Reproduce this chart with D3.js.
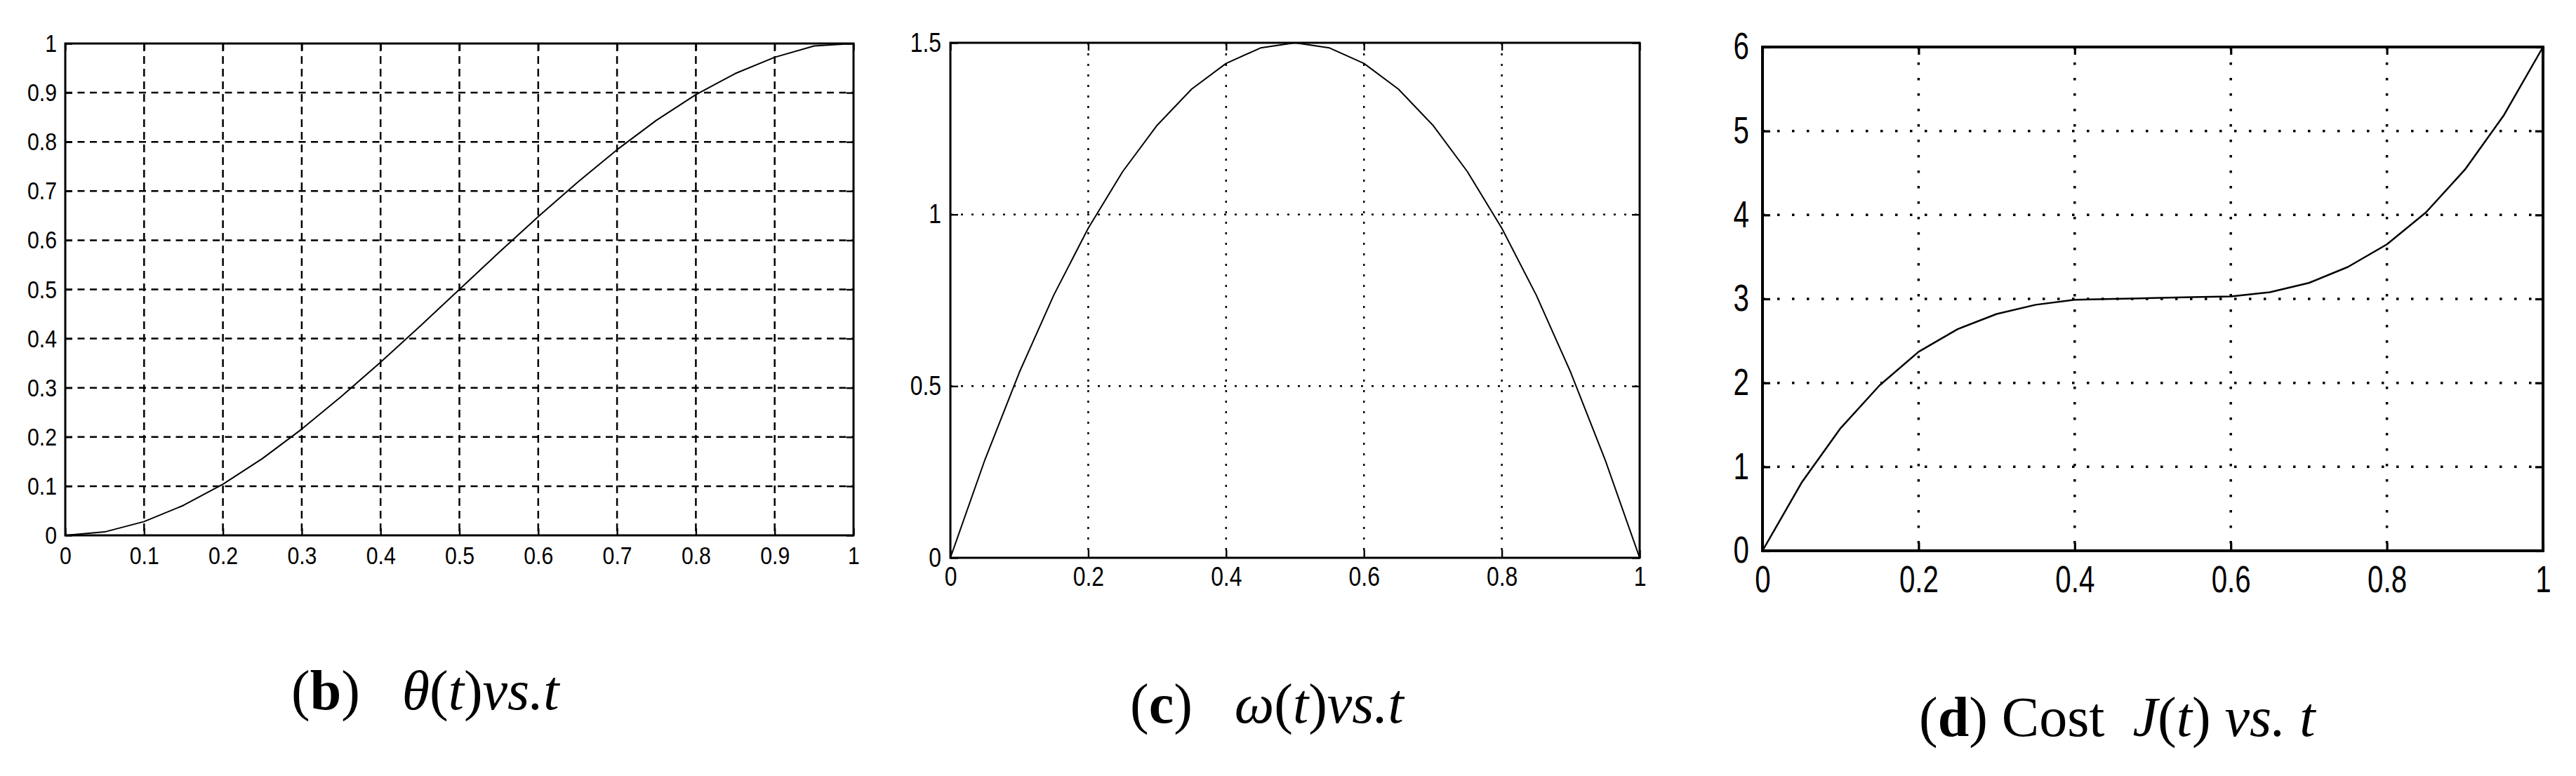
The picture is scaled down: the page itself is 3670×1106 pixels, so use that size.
<!DOCTYPE html>
<html>
<head>
<meta charset="utf-8">
<script src="https://cdn.jsdelivr.net/npm/d3@7"></script>
<style>
  html, body { margin: 0; padding: 0; background: #fff; }
  svg { display: block; }
  .cap { white-space: pre; }
</style>
</head>
<body>
<svg id="fig" width="3670" height="1106"></svg>
<script>
// ── DATA ────────────────────────────────────────────────────────────────
// sample times (shared by the three panels)
const tVals = [0, 0.05, 0.1, 0.15, 0.2, 0.25, 0.3, 0.35, 0.4, 0.45, 0.5,
               0.55, 0.6, 0.65, 0.7, 0.75, 0.8, 0.85, 0.9, 0.95, 1];

// (b) theta(t)
const thetaVals = [0, 0.007, 0.028, 0.061, 0.104, 0.156, 0.216, 0.282, 0.352, 0.425, 0.5,
                   0.575, 0.648, 0.718, 0.784, 0.844, 0.896, 0.939, 0.972, 0.995, 1];
// (c) omega(t)
const omegaVals = [0, 0.285, 0.54, 0.765, 0.96, 1.125, 1.26, 1.365, 1.44, 1.485, 1.5,
                   1.485, 1.44, 1.365, 1.26, 1.125, 0.96, 0.765, 0.54, 0.285, 0];
// (d) cost J(t)
const costVals = [0, 0.81, 1.46, 1.97, 2.37, 2.64, 2.82, 2.93, 2.99, 3.0, 3.01,
                  3.02, 3.03, 3.08, 3.19, 3.38, 3.65, 4.03, 4.54, 5.19, 6.0];

// tick labels
const thetaXTicks = [0, 0.1, 0.2, 0.3, 0.4, 0.5, 0.6, 0.7, 0.8, 0.9, 1];
const thetaYTicks = [0, 0.1, 0.2, 0.3, 0.4, 0.5, 0.6, 0.7, 0.8, 0.9, 1];
const omegaXTicks = [0, 0.2, 0.4, 0.6, 0.8, 1];
const omegaYTicks = [0, 0.5, 1, 1.5];
const costXTicks  = [0, 0.2, 0.4, 0.6, 0.8, 1];
const costYTicks  = [0, 1, 2, 3, 4, 5, 6];

// captions : [text, style]
const captionB = [["(", ""], ["b", "bold"], [")", ""], ["   ", ""], ["θ", "it"], ["(", ""], ["t", "it"], [")", ""], ["vs.", "it"], ["t", "it"]];
const captionC = [["(", ""], ["c", "bold"], [")", ""], ["   ", ""], ["ω", "it"], ["(", ""], ["t", "it"], [")", ""], ["vs.", "it"], ["t", "it"]];
const captionD = [["(", ""], ["d", "bold"], [")", ""], [" Cost  ", ""], ["J", "it"], ["(", ""], ["t", "it"], [")", ""], [" ", ""], ["vs.", "it"], [" ", ""], ["t", "it"]];

// ── LAYOUT ──────────────────────────────────────────────────────────────
const svg = d3.select('#fig');
svg.append('rect').attr('width', 3670).attr('height', 1106).attr('fill', '#fff');

const panels = [
  { l: 93,   r: 1216, t: 62, b: 763, yMax: 1,   xTicks: thetaXTicks, yTicks: thetaYTicks, vals: thetaVals,
    font: 36, sx: 0.84, padY: 12, padX: 15, tick: 10, frameW: 3, gridW: 2.5, dashH: '10,7.5', dashV: '11,7', lineW: 2,
    cap: captionB, capX: 415, capY: 1011 },
  { l: 1354, r: 2336, t: 61, b: 795, yMax: 1.5, xTicks: omegaXTicks, yTicks: omegaYTicks, vals: omegaVals,
    font: 38, sx: 0.84, padY: 13, padX: 13, tick: 11, frameW: 3, gridW: 2.5, dashH: '3,12', dashV: '3,12', lineW: 2,
    cap: captionC, capX: 1610, capY: 1030 },
  { l: 2511, r: 3623, t: 67, b: 785, yMax: 6,   xTicks: costXTicks,  yTicks: costYTicks,  vals: costVals,
    font: 53, sx: 0.76, padY: 19, padX: 21, tick: 11, frameW: 4, gridW: 3.5, dashH: '3.5,17.5', dashV: '3.5,18.5', lineW: 2.5,
    cap: captionD, capX: 2734, capY: 1049 }
];

function fmt(d) { return String(d); }

function drawPanel(p) {
  const x = d3.scaleLinear().domain([0, 1]).range([p.l, p.r]);
  const y = d3.scaleLinear().domain([0, p.yMax]).range([p.b, p.t]);
  const g = svg.append('g');

  // grille
  g.selectAll('.gx').data(p.xTicks.filter(d => d > 0 && d < 1)).join('line')
    .attr('x1', d => x(d)).attr('x2', d => x(d)).attr('y1', p.t).attr('y2', p.b)
    .attr('stroke', '#000').attr('stroke-width', p.gridW).attr('stroke-dasharray', p.dashV);
  g.selectAll('.gy').data(p.yTicks.filter(d => d > 0 && d < p.yMax)).join('line')
    .attr('y1', d => y(d)).attr('y2', d => y(d)).attr('x1', p.l).attr('x2', p.r)
    .attr('stroke', '#000').attr('stroke-width', p.gridW).attr('stroke-dasharray', p.dashH);

  // courbe
  const line = d3.line().x((d, i) => x(tVals[i])).y(d => y(d));
  g.append('path').datum(p.vals)
    .attr('fill', 'none').attr('stroke', '#000').attr('stroke-width', p.lineW)
    .attr('stroke-linejoin', 'round').attr('d', line);

  // ticks, 4 côtés, vers l'intérieur
  const styleAxis = sel => {
    sel.select('.domain').remove();
    sel.attr('font-family', "'Liberation Sans', Arial, sans-serif").attr('font-size', p.font).attr('color', '#000');
    sel.selectAll('line').attr('stroke-width', p.frameW * 0.8);
  };
  const left = g.append('g').attr('transform', `translate(${p.l},0)`)
    .call(d3.axisLeft(y).tickValues(p.yTicks).tickSizeInner(-p.tick).tickSizeOuter(0).tickPadding(p.padY).tickFormat(fmt));
  styleAxis(left);
  left.selectAll('text').attr('transform', `scale(${p.sx},1)`).attr('x', -p.padY / p.sx);

  const bottom = g.append('g').attr('transform', `translate(0,${p.b})`)
    .call(d3.axisBottom(x).tickValues(p.xTicks).tickSizeInner(-p.tick).tickSizeOuter(0).tickPadding(p.padX).tickFormat(fmt));
  styleAxis(bottom);
  bottom.selectAll('text').attr('transform', `scale(${p.sx},1)`);

  const right = g.append('g').attr('transform', `translate(${p.r},0)`)
    .call(d3.axisRight(y).tickValues(p.yTicks).tickSizeInner(-p.tick).tickSizeOuter(0).tickFormat(''));
  styleAxis(right);
  const top = g.append('g').attr('transform', `translate(0,${p.t})`)
    .call(d3.axisTop(x).tickValues(p.xTicks).tickSizeInner(-p.tick).tickSizeOuter(0).tickFormat(''));
  styleAxis(top);

  // cadre
  g.append('rect').attr('x', p.l).attr('y', p.t).attr('width', p.r - p.l).attr('height', p.b - p.t)
    .attr('fill', 'none').attr('stroke', '#000').attr('stroke-width', p.frameW);

  // légende
  const cap = svg.append('text').attr('class', 'cap')
    .attr('x', p.capX).attr('y', p.capY)
    .attr('font-family', "'Liberation Serif', 'Times New Roman', serif")
    .attr('font-size', 80).attr('fill', '#000');
  p.cap.forEach(([txt, st]) => {
    cap.append('tspan').text(txt)
      .attr('font-weight', st === 'bold' ? 700 : 400)
      .attr('font-style', st === 'it' ? 'italic' : 'normal');
  });
}

panels.forEach(drawPanel);
</script>
</body>
</html>
